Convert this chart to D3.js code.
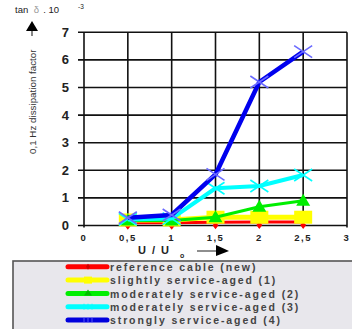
<!DOCTYPE html>
<html><head><meta charset="utf-8">
<script src="https://cdn.jsdelivr.net/npm/d3@7"></script>
<style>
html,body{margin:0;padding:0;background:#fff;}
svg{display:block;font-family:"Liberation Sans",Arial,sans-serif;}
</style></head>
<body>
<svg id="c" width="352" height="329"></svg>
<script>
const xValues = [0.5, 1, 1.5, 2, 2.5];
const xTickValues = [0, 0.5, 1, 1.5, 2, 2.5, 3];
const xTickLabels = ["0", "0,5", "1", "1,5", "2", "2,5", "3"];
const yTickValues = [0, 1, 2, 3, 4, 5, 6, 7];
const seriesNames = ["reference cable (new)", "slightly service-aged (1)", "moderately service-aged (2)", "moderately service-aged (3)", "strongly service-aged (4)"];
const refValues = [0.10, 0.10, 0.12, 0.13, 0.13];
const slightValues = [0.20, 0.20, 0.30, 0.30, 0.30];
const moderate2Values = [0.18, 0.18, 0.30, 0.68, 0.90];
const moderate3Values = [0.22, 0.25, 1.35, 1.43, 1.83];
const strongValues = [0.28, 0.38, 1.85, 5.20, 6.30];

const series = [
  {name: seriesNames[0], values: refValues, color: "#ff0000", width: 3, marker: "diamond", mcolor: "#ff0000"},
  {name: seriesNames[1], values: slightValues, color: "#ffff00", width: 5, marker: "square", mcolor: "#ffff00"},
  {name: seriesNames[2], values: moderate2Values, color: "#00ee00", width: 3, marker: "triangle", mcolor: "#00ee00"},
  {name: seriesNames[3], values: moderate3Values, color: "#00ffff", width: 4, marker: "x", mcolor: "#00ffff"},
  {name: seriesNames[4], values: strongValues, color: "#0000ee", width: 4.5, marker: "x", mcolor: "#6a6aff"}
];

const svg = d3.select("#c");
const x = d3.scaleLinear().domain([0, 3]).range([84, 347]);
const y = d3.scaleLinear().domain([0, 7]).range([225.5, 32.3]);

// grid
const g = svg.append("g");
g.selectAll(".hl").data(yTickValues).join("line")
  .attr("x1", 78).attr("x2", x(3)).attr("y1", d => y(d)).attr("y2", d => y(d))
  .attr("stroke", "#111").attr("stroke-width", 1.6);
g.selectAll(".vl").data(xTickValues).join("line")
  .attr("x1", d => x(d)).attr("x2", d => x(d)).attr("y1", y(7)).attr("y2", y(0) + 2)
  .attr("stroke", "#111").attr("stroke-width", 1.6);

// y tick labels
g.selectAll(".yt").data(yTickValues).join("text")
  .attr("x", 69).attr("y", d => y(d) + 4.5).attr("text-anchor", "end")
  .attr("font-size", 13).attr("font-weight", "bold").attr("fill", "#222")
  .text(d => d);
// x tick labels
g.selectAll(".xt").data(xTickValues).join("text")
  .attr("x", (d) => x(d)).attr("y", 241).attr("text-anchor", "middle")
  .attr("font-size", 9.5).attr("font-weight", "bold").attr("fill", "#222")
  .attr("letter-spacing", 1.5)
  .text((d, i) => xTickLabels[i]);

// x axis title
svg.append("text").attr("x", 138).attr("y", 254).attr("font-size", 11).attr("font-weight", "bold")
  .attr("fill", "#222").attr("letter-spacing", 1.5).text("U / U");
svg.append("text").attr("x", 180).attr("y", 258).attr("font-size", 7).attr("font-weight", "bold")
  .attr("fill", "#222").text("o");
svg.append("line").attr("x1", 197).attr("x2", 218).attr("y1", 251).attr("y2", 251)
  .attr("stroke", "#444").attr("stroke-width", 1.2);
svg.append("path").attr("d", "M216,245 L229,251 L216,256 Z").attr("fill", "#000");

// y axis title
svg.append("text").attr("transform", "translate(36,154) rotate(-90)")
  .attr("font-size", 9.8).attr("fill", "#333").text("0,1 Hz dissipation factor");
svg.append("line").attr("x1", 32).attr("x2", 32).attr("y1", 36).attr("y2", 28)
  .attr("stroke", "#333").attr("stroke-width", 1.2);
svg.append("path").attr("d", "M26,31 L32,21 L38,31 Z").attr("fill", "#000");
const tt = svg.append("text").attr("x", 15).attr("y", 13).attr("font-size", 9.5).attr("fill", "#222");
tt.append("tspan").text("tan ");
tt.append("tspan").attr("dx", 3).attr("fill", "#999").text("δ");
tt.append("tspan").attr("dx", 4).text(". 10");
svg.append("text").attr("x", 78).attr("y", 9).attr("font-size", 6.5).attr("fill", "#222").text("-3");

// markers
function drawMarker(sel, type, color, cx, cy) {
  if (type === "square") {
    sel.append("rect").attr("x", cx - 9).attr("y", cy - 6.5).attr("width", 18).attr("height", 13).attr("fill", color);
  } else if (type === "triangle") {
    sel.append("path").attr("d", `M${cx},${cy - 7} L${cx + 7},${cy + 5} L${cx - 7},${cy + 5} Z`).attr("fill", color);
  } else if (type === "diamond") {
    sel.append("path").attr("d", `M${cx - 3},${cy} L${cx},${cy - 3} L${cx + 3},${cy} L${cx},${cy + 4} Z`).attr("fill", color);
  } else if (type === "x") {
    const r = 9, r2 = 6;
    sel.append("path").attr("d", `M${cx - r},${cy - r2} L${cx + r},${cy + r2} M${cx - r},${cy + r2} L${cx + r},${cy - r2}`)
      .attr("stroke", color).attr("stroke-width", 1.6).attr("fill", "none");
  }
}

const line = d3.line().x((d, i) => x(xValues[i])).y(d => y(d));
series.forEach(s => {
  const sg = svg.append("g");
  sg.append("path").datum(s.values).attr("d", line).attr("fill", "none")
    .attr("stroke", s.color).attr("stroke-width", s.width).attr("stroke-linejoin", "round");
  s.values.forEach((v, i) => {
    const cy = s.marker === "diamond" ? y(v) + 3 : y(v);
    drawMarker(sg, s.marker, s.mcolor, x(xValues[i]), cy);
  });
});

// legend
const lg = svg.append("g");
lg.append("rect").attr("x", 13).attr("y", 261).attr("width", 350).attr("height", 80)
  .attr("fill", "#e8e7ec").attr("stroke", "#555").attr("stroke-width", 1.6);
series.forEach((s, i) => {
  const ly = 266.8 + i * 13.3;
  lg.append("line").attr("x1", 68).attr("x2", 107).attr("y1", ly).attr("y2", ly)
    .attr("stroke", s.color === "#0000ee" ? "#0000dd" : s.color).attr("stroke-width", 5).attr("stroke-linecap", "round");
  if (s.marker === "square") {
    lg.append("rect").attr("x", 84).attr("y", ly - 3.5).attr("width", 8).attr("height", 7).attr("fill", s.color);
  } else if (s.marker === "triangle") {
    lg.append("path").attr("d", `M88,${ly - 4} L92,${ly + 2} L84,${ly + 2} Z`).attr("fill", "#00bb00");
  } else if (s.marker === "x") {
    lg.append("path").attr("d", `M84,${ly - 3} L84,${ly + 3} M88,${ly - 3} L88,${ly + 3} M92,${ly - 3} L92,${ly + 3}`)
      .attr("stroke", s.mcolor).attr("stroke-width", 1).attr("opacity", 0.8);
  } else {
    lg.append("path").attr("d", `M88,${ly - 3} L90,${ly} L88,${ly + 3} L86,${ly} Z`).attr("fill", "#cc0000");
  }
  lg.append("text").attr("x", 110).attr("y", ly + 4.2).attr("font-size", 10.5).attr("font-weight", "bold")
    .attr("fill", "#444").attr("letter-spacing", 1.9).text(s.name);
});
</script>
</body></html>
